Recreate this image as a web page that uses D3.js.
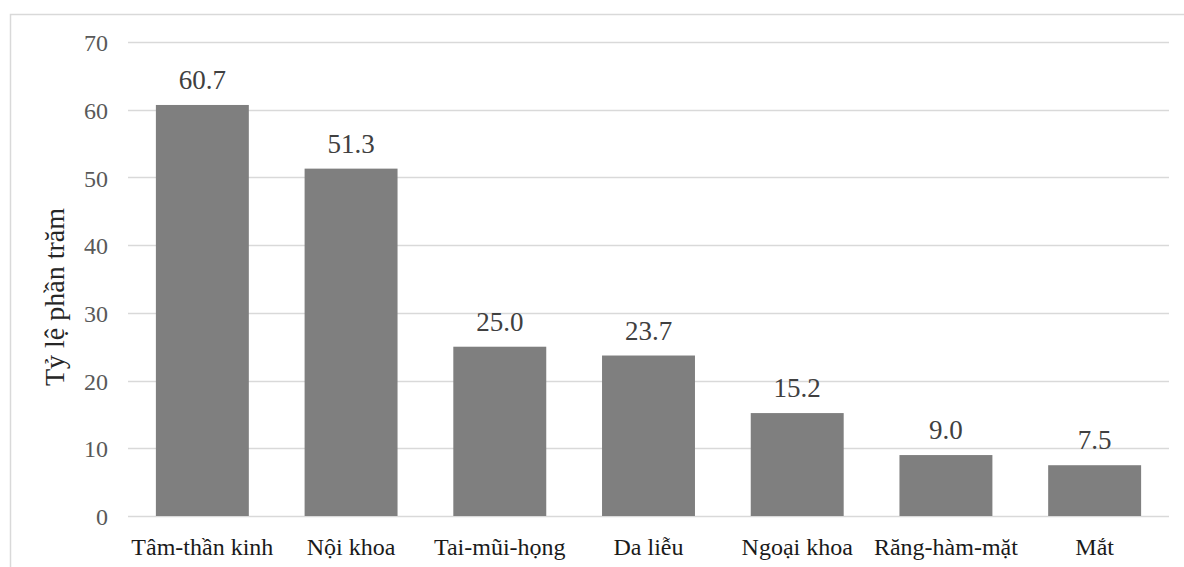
<!DOCTYPE html>
<html>
<head>
<meta charset="utf-8">
<script src="https://cdn.jsdelivr.net/npm/d3@7"></script>
<style>
  html, body { margin: 0; padding: 0; background: #fff; }
  svg { display: block; }
  svg text { font-family: "Liberation Serif", "Tinos", "Times New Roman", "DejaVu Serif", serif !important; }
</style>
</head>
<body>
<svg id="chart" width="1184" height="567"></svg>
<script>
// Specialty categories and their percentages
const categories = ["Tâm-thần kinh", "Nội khoa", "Tai-mũi-họng", "Da liễu", "Ngoại khoa", "Răng-hàm-mặt", "Mắt"];
const values = [60.7, 51.3, 25.0, 23.7, 15.2, 9.0, 7.5];
const yTicks = [0, 10, 20, 30, 40, 50, 60, 70];
const yTitle = "Tỷ lệ phần trăm";

const svg = d3.select("#chart");
const W = 1184, H = 567;
const plot = { left: 128, right: 1169, top: 42, bottom: 516 };

// Outer frame of the chart area
svg.append("rect")
  .attr("x", 10.5).attr("y", 14.5)
  .attr("width", W + 20).attr("height", H + 20)
  .attr("fill", "none").attr("stroke", "#d9d9d9").attr("stroke-width", 1.5);

const x = d3.scaleBand()
  .domain(categories)
  .range([plot.left, plot.right])
  .paddingInner(0.375)
  .paddingOuter(0.1875);

const y = d3.scaleLinear()
  .domain([0, 70])
  .range([plot.bottom, plot.top]);

// Horizontal gridlines
svg.append("g")
  .selectAll("line")
  .data(yTicks)
  .join("line")
  .attr("x1", plot.left).attr("x2", plot.right)
  .attr("y1", d => Math.round(y(d)) + 0.5).attr("y2", d => Math.round(y(d)) + 0.5)
  .attr("stroke", "#d9d9d9").attr("stroke-width", 1.5);

// Y tick labels
const yAxis = d3.axisLeft(y).tickValues(yTicks).tickSize(0).tickPadding(20);
const gy = svg.append("g")
  .attr("transform", `translate(${plot.left},0)`)
  .call(yAxis);
gy.select(".domain").remove();
gy.selectAll("text")
  .attr("font-size", 24)
  .attr("fill", "#595959")
  .attr("dy", "0.36em");

// Bars
svg.append("g")
  .selectAll("rect")
  .data(values)
  .join("rect")
  .attr("x", (d, i) => x(categories[i]))
  .attr("width", x.bandwidth())
  .attr("y", d => y(d))
  .attr("height", d => y(0) - y(d))
  .attr("fill", "#7f7f7f");

// Value labels above bars
svg.append("g")
  .selectAll("text")
  .data(values)
  .join("text")
  .attr("x", (d, i) => x(categories[i]) + x.bandwidth() / 2)
  .attr("y", d => y(d) - 16)
  .attr("text-anchor", "middle")
  .attr("font-size", 27)
  .attr("fill", "#404040")
  .text(d => d.toFixed(1));

// Category labels
const xAxis = d3.axisBottom(x).tickSize(0).tickPadding(0);
const gx = svg.append("g")
  .attr("transform", `translate(0,${plot.bottom})`)
  .call(xAxis);
gx.select(".domain").remove();
gx.selectAll("text")
  .attr("font-size", 24)
  .attr("fill", "#1a1a1a")
  .attr("dy", null)
  .attr("y", 39);

// Y axis title
svg.append("text")
  .attr("transform", "translate(64,297) rotate(-90)")
  .attr("text-anchor", "middle")
  .attr("font-size", 28)
  .attr("fill", "#262626")
  .text(yTitle);
</script>
</body>
</html>
